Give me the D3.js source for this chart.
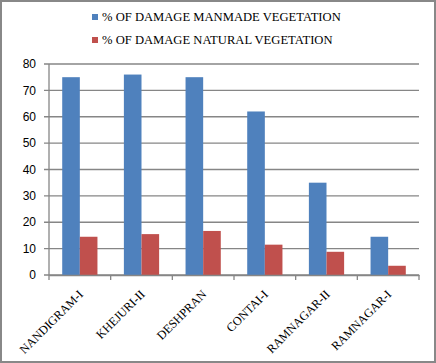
<!DOCTYPE html>
<html><head><meta charset="utf-8">
<script src="https://cdn.jsdelivr.net/npm/d3@7/dist/d3.min.js"></script>
<style>body{margin:0;background:#fff}svg{display:block}
.serif{font-family:"Liberation Serif","Times New Roman",serif;}
.sans{font-family:"Liberation Sans",Arial,sans-serif;}</style>
</head><body>
<script>
const categories = ["NANDIGRAM-I","KHEJURI-II","DESHPRAN","CONTAI-I","RAMNAGAR-II","RAMNAGAR-I"];
const seriesNames = ["% OF DAMAGE MANMADE VEGETATION","% OF DAMAGE NATURAL VEGETATION"];
const manmade = [75,76,75,62,35,14.5];
const natural = [14.5,15.5,16.7,11.5,8.8,3.5];
const colors = ["#4f81bd","#c0504d"];
const yTicks = [0,10,20,30,40,50,60,70,80];

const W=436,H=363;
const svg=d3.select("body").append("svg").attr("width",W).attr("height",H);
svg.append("rect").attr("x",1).attr("y",1).attr("width",W-2).attr("height",H-2)
  .attr("fill","#fff").attr("stroke","#888").attr("stroke-width",2);

const x0=d3.scaleBand().domain(categories).range([49,419]);
const x1=d3.scaleBand().domain([0,1]).range([0,x0.bandwidth()]).paddingOuter(0.75).paddingInner(0);
const y=d3.scaleLinear().domain([0,80]).range([275,64]);

// gridlines
svg.append("g").selectAll("line").data(yTicks).join("line")
  .attr("x1",44).attr("x2",419).attr("y1",d=>y(d)).attr("y2",d=>y(d))
  .attr("stroke","#868686").attr("stroke-width",1.3);
// y axis line
svg.append("line").attr("x1",49).attr("x2",49).attr("y1",y(80)).attr("y2",y(0)).attr("stroke","#868686").attr("stroke-width",1.3);
// y labels
svg.append("g").selectAll("text").data(yTicks).join("text").attr("class","sans")
  .attr("x",36).attr("y",d=>y(d)).attr("dy","0.35em").attr("text-anchor","end")
  .attr("font-size",12).attr("fill","#000").text(d=>d);

// bars
const data=categories.map((c,i)=>({c,vals:[manmade[i],natural[i]]}));
const g=svg.append("g").selectAll("g").data(data).join("g").attr("transform",d=>`translate(${x0(d.c)},0)`);
g.selectAll("rect").data(d=>d.vals.map((v,k)=>({v,k}))).join("rect")
  .attr("x",d=>x1(d.k)).attr("width",x1.bandwidth())
  .attr("y",d=>y(d.v)).attr("height",d=>y(0)-y(d.v)).attr("fill",d=>colors[d.k]);

// x axis
const xa=svg.append("g").attr("transform",`translate(0,${y(0)})`)
  .call(d3.axisBottom(x0).tickSize(0).tickFormat(""));
xa.select(".domain").attr("stroke","#868686").attr("stroke-width",1.3);
const bounds=categories.map(c=>x0(c)).concat([x0.range()[1]]);
svg.append("g").selectAll("line").data(bounds).join("line")
  .attr("x1",d=>d).attr("x2",d=>d).attr("y1",y(0)).attr("y2",y(0)+5)
  .attr("stroke","#868686").attr("stroke-width",1.3);
svg.append("g").selectAll("text").data(categories).join("text").attr("class","serif")
  .attr("transform",d=>`translate(${x0(d)+x0.bandwidth()/2+1},${y(0)+17}) rotate(-45)`)
  .attr("text-anchor","end").attr("dy","0.35em")
  .attr("font-size",12.2).attr("fill","#000").text(d=>d);

// legend
const lg=svg.append("g").selectAll("g").data(seriesNames).join("g")
  .attr("transform",(d,i)=>`translate(92,${17+i*23})`);
lg.append("rect").attr("x",0).attr("y",-3).attr("width",6).attr("height",6).attr("fill",(d,i)=>colors[i]);
lg.append("text").attr("class","serif").attr("x",10).attr("dy","0.35em").attr("font-size",12.6).attr("fill","#000").text(d=>d);
</script>
</body></html>
